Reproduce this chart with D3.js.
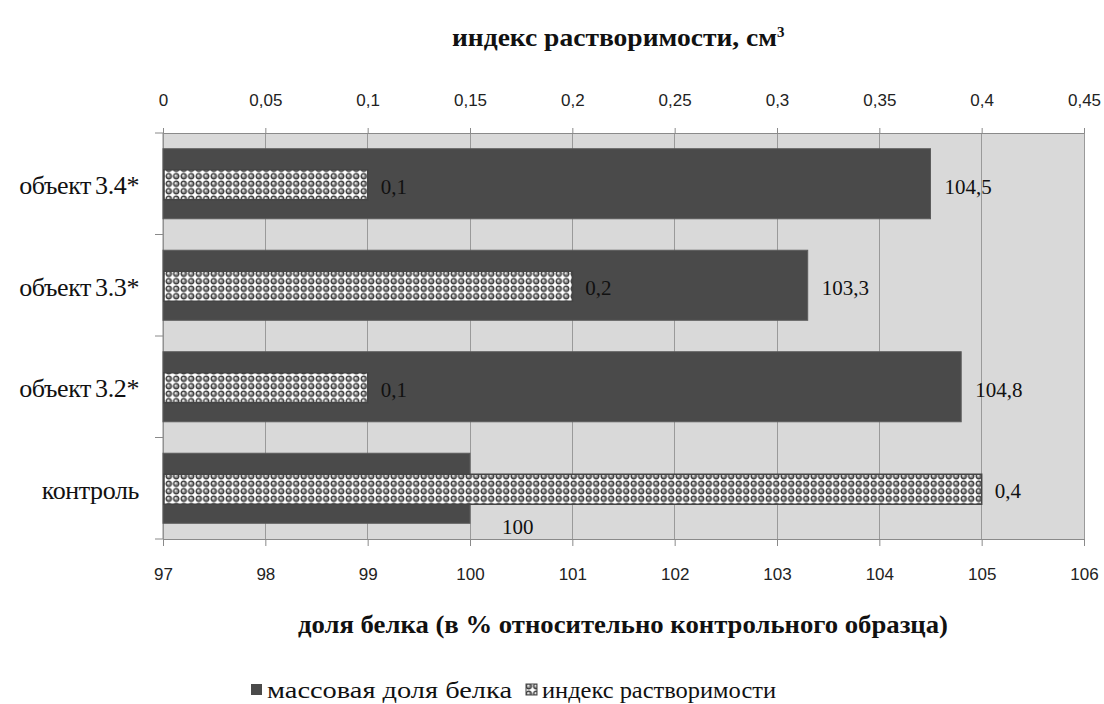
<!DOCTYPE html>
<html><head><meta charset="utf-8">
<script src="https://cdn.jsdelivr.net/npm/d3@7/dist/d3.min.js"></script>
<style>
html,body{margin:0;padding:0;background:#fff;}
svg{display:block;}
</style></head>
<body>
<svg id="chart" width="1104" height="704"></svg>
<script>
const categories = ["контроль", "объект 3.2*", "объект 3.3*", "объект 3.4*"];
const proteinValues = [100, 104.8, 103.3, 104.5];
const solubilityValues = [0.4, 0.1, 0.2, 0.1];
const bottomTicks = [97, 98, 99, 100, 101, 102, 103, 104, 105, 106];
const topTicks = [0, 0.05, 0.1, 0.15, 0.2, 0.25, 0.3, 0.35, 0.4, 0.45];
const proteinLabels = ["100", "104,8", "103,3", "104,5"];
const solubilityLabels = ["0,4", "0,1", "0,2", "0,1"];
const seriesNames = ["массовая доля белка", "индекс растворимости"];
const topTitle = "индекс растворимости, см";
const bottomTitle = "доля белка (в % относительно контрольного образца)";

const svg = d3.select("#chart");
const L = 163, R = 1084, T = 133, B = 539;
const serif = "'Liberation Serif','Times New Roman',serif";
const sans = "'Liberation Sans',Arial,sans-serif";

const x = d3.scaleLinear().domain([97, 106]).range([L, R]);
const x2 = d3.scaleLinear().domain([0, 0.45]).range([L, R]);
const y = d3.scaleBand().domain(categories.slice().reverse()).range([T, B]);

// pattern
const defs = svg.append("defs");
const pat = defs.append("pattern").attr("id", "dots").attr("patternUnits", "userSpaceOnUse")
  .attr("width", 7.5).attr("height", 7.5);
pat.append("rect").attr("width", 7.5).attr("height", 7.5).attr("fill", "#ffffff");
pat.append("circle").attr("cx", 3.75).attr("cy", 3.75).attr("r", 2.7)
  .attr("fill", "#8a8a8a").attr("stroke", "#333").attr("stroke-width", 1.2);
pat.append("circle").attr("cx", 3.2).attr("cy", 3.2).attr("r", 1).attr("fill", "#ffffff");

// plot bg
svg.append("rect").attr("x", L).attr("y", T).attr("width", R - L).attr("height", B - T).attr("fill", "#d9d9d9");

// gridlines
svg.append("g").selectAll("line").data(bottomTicks).join("line")
  .attr("x1", d => x(d)).attr("x2", d => x(d)).attr("y1", T).attr("y2", B)
  .attr("stroke", "#9a9a9a").attr("stroke-width", 1).attr("shape-rendering", "crispEdges");

// axes
const fmt = d => String(d).replace(".", ",");
const gTop = svg.append("g").attr("transform", `translate(0,${T})`)
  .call(d3.axisTop(x2).tickValues(topTicks).tickFormat(fmt).tickSize(5).tickSizeOuter(0));
const gBot = svg.append("g").attr("transform", `translate(0,${B})`)
  .call(d3.axisBottom(x).tickValues(bottomTicks).tickFormat(fmt).tickSize(7).tickSizeOuter(0));
[gTop, gBot].forEach(g => {
  g.select(".domain").attr("stroke", "#8a8a8a");
  g.selectAll(".tick line").attr("stroke", "#8a8a8a");
  g.selectAll("text").attr("font-family", sans).attr("font-size", 17).attr("fill", "#222");
});
gTop.selectAll("text").attr("dy", "-1.1em");
gBot.selectAll("text").attr("dy", "1.85em");

// left axis
svg.append("line").attr("x1", L).attr("x2", L).attr("y1", T).attr("y2", B).attr("stroke", "#8a8a8a");
const seps = y.domain().map(c => y(c)).concat([B]);
svg.append("g").selectAll("line").data(seps).join("line")
  .attr("x1", L - 8).attr("x2", L).attr("y1", d => d).attr("y2", d => d).attr("stroke", "#8a8a8a");

// protein bars
const bw = y.bandwidth();
const bh = bw * 0.69;
svg.append("g").selectAll("rect").data(categories).join("rect")
  .attr("x", L).attr("y", d => y(d) + (bw - bh) / 2)
  .attr("width", (d, i) => x(proteinValues[i]) - L).attr("height", bh)
  .attr("fill", "#4a4a4a").attr("stroke", "#5c5c5c").attr("stroke-width", 1);

// solubility bars
const ph = 30;
svg.append("g").selectAll("rect").data(categories).join("rect")
  .attr("x", L + 1).attr("y", d => y(d) + bw / 2 - ph / 2 + 1)
  .attr("width", (d, i) => x2(solubilityValues[i]) - L - 1).attr("height", ph)
  .attr("fill", "url(#dots)").attr("stroke", "#444").attr("stroke-width", 1.5);

// labels
const lab = svg.append("g").attr("font-family", serif).attr("font-size", 21).attr("fill", "#111");
categories.forEach((c, i) => {
  const cy = y(c) + bw / 2;
  const ctrl = i === 0;
  lab.append("text").attr("x", x(proteinValues[i]) + (ctrl ? 32 : 14)).attr("y", cy + (ctrl ? 39 : 3))
    .attr("dominant-baseline", "central").text(proteinLabels[i]);
  lab.append("text").attr("x", x2(solubilityValues[i]) + 13).attr("y", cy + 3)
    .attr("dominant-baseline", "central").text(solubilityLabels[i]);
});

// category labels
svg.append("g").selectAll("text").data(categories).join("text")
  .attr("x", 139).attr("y", d => y(d) + bw / 2 + 2).attr("text-anchor", "end")
  .attr("dominant-baseline", "central").attr("font-family", serif).attr("font-size", 26)
  .attr("letter-spacing", "-0.4").attr("word-spacing", "-2").attr("fill", "#111").text(d => d);

// titles
const tt = svg.append("text").attr("x", 452).attr("y", 46).attr("font-family", serif)
  .attr("font-weight", "bold").attr("font-size", 26).attr("fill", "#111");
tt.append("tspan").attr("textLength", 325).attr("lengthAdjust", "spacingAndGlyphs").text(topTitle);
tt.append("tspan").attr("font-size", 15).attr("dy", -9).text("3");

svg.append("text").attr("x", 298).attr("y", 633).attr("font-family", serif)
  .attr("font-weight", "bold").attr("font-size", 25).attr("fill", "#111")
  .attr("textLength", 650).attr("lengthAdjust", "spacingAndGlyphs").text(bottomTitle);

// legend
const lg = svg.append("g");
lg.append("rect").attr("x", 251).attr("y", 684).attr("width", 11).attr("height", 11).attr("fill", "#4a4a4a");
lg.append("text").attr("x", 267).attr("y", 690).attr("dominant-baseline", "central")
  .attr("font-family", serif).attr("font-size", 24).attr("fill", "#111")
  .attr("textLength", 245).attr("lengthAdjust", "spacingAndGlyphs").text(seriesNames[0]);
lg.append("rect").attr("x", 526).attr("y", 684).attr("width", 11).attr("height", 11)
  .attr("fill", "url(#dots)").attr("stroke", "#444").attr("stroke-width", 1);
lg.append("text").attr("x", 542).attr("y", 690).attr("dominant-baseline", "central")
  .attr("font-family", serif).attr("font-size", 24).attr("fill", "#111")
  .attr("textLength", 234).attr("lengthAdjust", "spacingAndGlyphs").text(seriesNames[1]);
</script>
</body></html>
